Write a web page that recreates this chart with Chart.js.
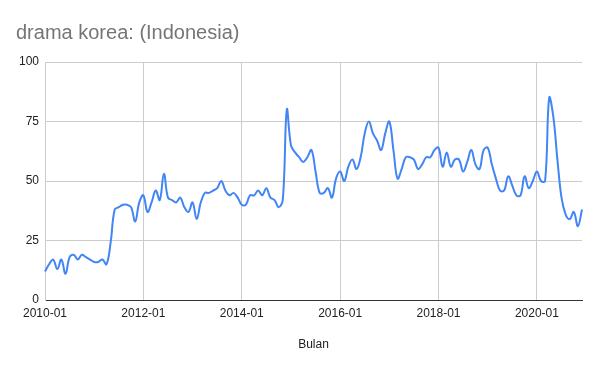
<!DOCTYPE html>
<html>
<head>
<meta charset="utf-8">
<script src="https://cdn.jsdelivr.net/npm/chart.js@4"></script>
<style>
  html, body { margin: 0; padding: 0; background: #fff; }
  #wrap { width: 600px; height: 371px; }
</style>
</head>
<body>
<div id="wrap"><canvas id="trendChart" width="600" height="371"></canvas></div>
<script>
const judul = 'drama korea: (Indonesia)';
const judulSumbuX = 'Bulan';
const tahun = [2010, 2011, 2012, 2013, 2014, 2015, 2016, 2017, 2018, 2019, 2020];
const tickY = [0, 25, 50, 75, 100];

// minat penelusuran per bulan, satu baris per tahun
const nilai = [
  12, 15, 17, 13, 17, 11, 18, 19, 17, 19, 18, 17,
  16, 16, 17, 15, 24, 38, 39, 40, 40, 39, 33, 41,
  44, 37, 41, 46, 42, 53, 43, 42, 41, 43, 39, 37,
  41, 34, 41, 45, 45, 46, 47, 50, 46, 44, 45, 43,
  40, 40, 44, 44, 46, 44, 47, 43, 42, 39, 42, 80,
  65, 62, 60, 58, 60, 63, 54, 45, 45, 47, 43, 51,
  54, 50, 56, 59, 55, 60, 70, 75, 70, 67, 63, 70,
  75, 63, 51, 55, 60, 60, 59, 55, 57, 60, 60, 63,
  64, 56, 62, 56, 59, 59, 54, 58, 63, 57, 55, 63,
  64, 57, 51, 46, 46, 52, 48, 44, 44, 52, 47, 50,
  54, 50, 50, 85, 77, 59, 43, 36, 34, 37, 31, 38
];

const bulan = [];
tahun.forEach(function (t) {
  for (let m = 1; m <= 12; m++) {
    bulan.push(t + '-' + (m < 10 ? '0' + m : m));
  }
});

const font = "'Liberation Sans', Arial, sans-serif";
const ctx = document.getElementById('trendChart').getContext('2d');

const trendChart = new Chart(ctx, {
  type: 'line',
  data: {
    labels: bulan,
    datasets: [{
      label: judul,
      data: nilai,
      borderColor: '#4285f4',
      borderWidth: 2,
      pointRadius: 0,
      pointHoverRadius: 0,
      tension: 0.4,
      fill: false
    }]
  },
  options: {
    responsive: false,
    animation: false,
    layout: { padding: { left: 16, right: 18, top: 0, bottom: 0 } },
    plugins: {
      legend: { display: false },
      tooltip: { enabled: false },
      title: {
        display: true,
        text: judul,
        align: 'start',
        color: '#757575',
        font: { family: font, size: 20, weight: 'normal', lineHeight: 1.2 },
        padding: { top: 21, bottom: 17 }
      }
    },
    scales: {
      x: {
        offset: false,
        afterFit: function (scale) { scale.height = 71; },
        border: { color: '#333', width: 1 },
        grid: {
          drawTicks: false,
          color: '#ccc',
          lineWidth: 1
        },
        ticks: {
          autoSkip: false,
          maxRotation: 0,
          padding: 6,
          color: '#222',
          font: { family: font, size: 12 },
          callback: function (val, i) {
            return i % 24 === 0 ? bulan[i] : null;
          }
        },
        title: {
          display: true,
          text: judulSumbuX,
          color: '#222',
          font: { family: font, size: 12 },
          padding: { top: 0, bottom: 19 }
        }
      },
      y: {
        min: 0,
        max: 100,
        afterFit: function (scale) { scale.width = 29; },
        afterBuildTicks: function (scale) {
          scale.ticks = tickY.map(function (v) { return { value: v }; });
        },
        border: { color: '#ccc', width: 1 },
        grid: {
          drawTicks: false,
          lineWidth: 1,
          color: function (c) { return c.tick && c.tick.value === 0 ? '#333' : '#ccc'; }
        },
        ticks: {
          padding: 6,
          color: '#222',
          font: { family: font, size: 12 }
        }
      }
    }
  }
});
</script>
</body>
</html>
